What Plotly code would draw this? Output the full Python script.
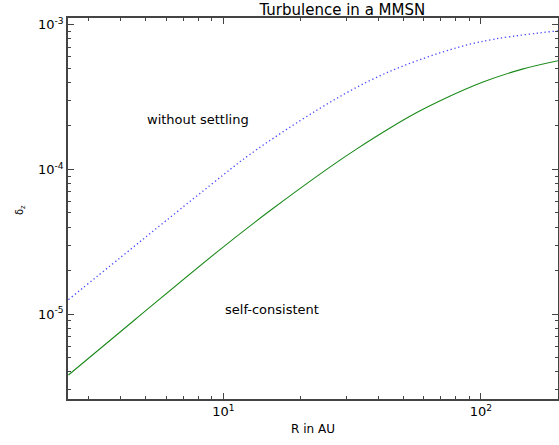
import math
import plotly.graph_objects as go

# Data (R in AU, delta_z)
r_nosettle = [2.5, 4.0, 6.0, 10.0, 12.7, 23.1, 37.2, 56.4, 99.3, 200.0]
d_nosettle = [1.26e-5, 2.48e-5, 4.44e-5, 9.18e-5, 1.273e-4, 2.569e-4, 4.122e-4, 5.627e-4, 7.61e-4, 9.06e-4]

r_selfcons = [2.5, 4.54, 10.0, 15.2, 26.0, 33.0, 44.4, 56.4, 69.5, 102.0, 145.0, 200.0]
d_selfcons = [3.8e-6, 9.19e-6, 2.92e-5, 5.20e-5, 1.042e-4, 1.387e-4, 1.932e-4, 2.469e-4, 2.981e-4, 4.012e-4, 4.93e-4, 5.64e-4]

x_tickvals = [10, 100]
x_ticktext = ["10<sup>1</sup>", "10<sup>2</sup>"]
y_tickvals = [1e-5, 1e-4, 1e-3]
y_ticktext = ["10<sup>-5</sup>", "10<sup>-4</sup>", "10<sup>-3</sup>"]

title_text = "Turbulence in a MMSN"
x_label = "R in AU"
y_label = "δ<sub>z</sub>"
label_nosettle = "without settling"
label_selfcons = "self-consistent"

FONT = "DejaVu Sans"

fig = go.Figure()
fig.add_trace(go.Scatter(x=r_nosettle, y=d_nosettle, mode="lines", line_shape="spline",
                         line=dict(color="rgba(40,40,255,0.85)", width=1.3, dash="1.3px,2.7px"),
                         showlegend=False))
fig.add_trace(go.Scatter(x=r_selfcons, y=d_selfcons, mode="lines", line_shape="spline",
                         line=dict(color="#1a8a1a", width=1.1),
                         showlegend=False))

fig.add_annotation(x=math.log10(7.95), y=math.log10(2.2e-4), xref="x", yref="y",
                   text=label_nosettle, showarrow=False,
                   font=dict(family=FONT, size=13, color="black"), xanchor="center")
fig.add_annotation(x=math.log10(15.4), y=math.log10(1.08e-5), xref="x", yref="y",
                   text=label_selfcons, showarrow=False,
                   font=dict(family=FONT, size=13, color="black"), xanchor="center")
fig.add_annotation(x=(20 - 68) / 490, y=(399 - 210) / 381, xref="paper", yref="paper",
                   text=y_label, showarrow=False, textangle=-90,
                   font=dict(family=FONT, size=10, color="black"),
                   xanchor="center", yanchor="middle")

minor_x = [m * 10 ** e for e in range(0, 3) for m in range(2, 10)]
minor_y = [m * 10 ** e for e in range(-6, -2) for m in range(2, 10)]

def axis_common(tickvals, ticktext, minor_vals):
    return dict(
        type="log", showgrid=False, zeroline=False, showline=True, linecolor="#444", linewidth=1.5,
        mirror="ticks", ticks="inside", ticklen=6, tickwidth=1, tickcolor="#444",
        tickmode="array", tickvals=tickvals, ticktext=ticktext, automargin=False,
        tickfont=dict(family=FONT, size=13, color="black"),
        minor=dict(ticks="inside", ticklen=3, tickwidth=1, tickcolor="#444",
                   tickmode="array", tickvals=minor_vals, showgrid=False),
    )

fig.update_layout(
    width=559, height=445,
    margin=dict(l=68, r=1, t=18, b=46, autoexpand=False),
    paper_bgcolor="white", plot_bgcolor="white",
    font=dict(family=FONT, color="black"),
    title=dict(text=title_text, x=313 / 559, xanchor="center", xref="paper",
               y=0.989, yref="container", yanchor="top", pad=dict(t=0),
               font=dict(family=FONT, size=15, color="black")),
    xaxis=dict(axis_common(x_tickvals, x_ticktext, minor_x),
               range=[math.log10(2.49), math.log10(199.5)],
               title=dict(text=x_label, font=dict(family=FONT, size=12), standoff=6)),
    yaxis=dict(axis_common(y_tickvals, y_ticktext, minor_y), range=[-5.586, -2.954]),
)

fig.write_html("out.html", config={"displayModeBar": False},
               post_script="document.body.style.margin='0';")
